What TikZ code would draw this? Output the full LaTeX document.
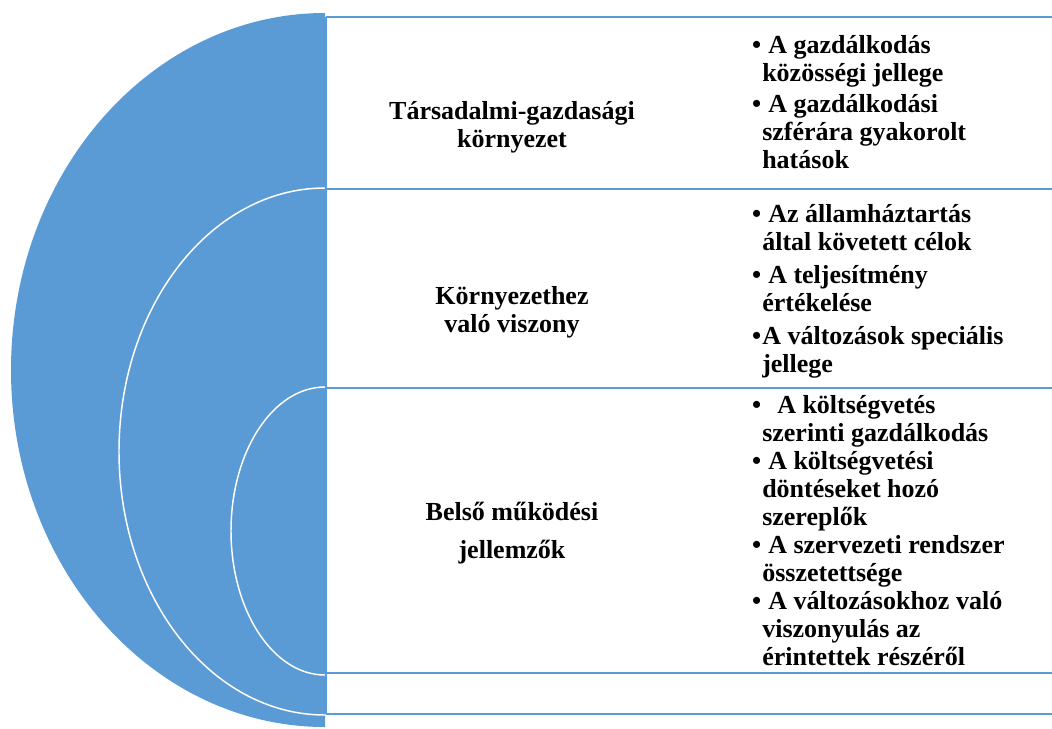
\documentclass[tikz,border=0pt]{standalone}
\usepackage{fontspec}
\setmainfont{Liberation Serif}
\usepackage{tikz}
\usepackage{xcolor}

\definecolor{officeblue}{RGB}{91,155,213}
\newcommand{\blt}[1][4.5pt]{\llap{\textbullet\hspace{0.75pt}}\hspace{#1}}

\begin{document}
\begin{tikzpicture}[x=0.75pt,y=0.75pt,yscale=-1,xscale=1,
    rowline/.style={draw=officeblue, line width=1.5pt},
    arcline/.style={draw=white, line width=1.1pt},
    lbl/.style={inner sep=0.75pt, align=center, font=\bfseries\fontsize{19.5}{21}\selectfont},
    itemtxt/.style={inner sep=0pt, align=left, font=\bfseries\fontsize{19.5}{21}\selectfont}]
    \useasboundingbox (0,0) rectangle (1052,728);

    %Shape: Half Ellipse [id:outer]
    \fill [officeblue] (325,13) arc [start angle=-90, end angle=-270, x radius=314, y radius=357] -- cycle ;
    %Shape: Arc [id:middle]
    \draw [arcline] (325,188) arc [start angle=-90, end angle=-270, x radius=206, y radius=263.5] ;
    %Shape: Arc [id:inner]
    \draw [arcline] (325,387) arc [start angle=-90, end angle=-270, x radius=94, y radius=144] ;

    %Straight Lines [id:rows]
    \draw [rowline] (326,17) -- (1052,17) ;
    \draw [rowline] (326,189) -- (1052,189) ;
    \draw [rowline] (326,388) -- (1052,388) ;
    \draw [rowline] (326,673) -- (1052,673) ;
    \draw [rowline] (326,714) -- (1052,714) ;
    \draw [draw=officeblue, line width=1pt] (326,17) -- (326,714) ;

    % Text Node (anchored at the last baseline)
    \node (tarsadalmi) [lbl, anchor=base] at (512,147) {Társadalmi-gazdasági\\környezet};
    % Text Node
    \node (kornyezet) [lbl, anchor=base] at (512,332) {Környezethez\\való viszony};
    % Text Node
    \node (belso) [lbl, anchor=base] at (512,558) {Belső működési\\[7.5pt]jellemzők};

    % Text Node
    \node (tarsadalmilist) [itemtxt, anchor=base west] at (762,168) {\blt A gazdálkodás\\közösségi jellege\\[2.25pt]\blt A gazdálkodási\\szférára gyakorolt\\hatások};
    % Text Node
    \node (kornyezetlist) [itemtxt, anchor=base west] at (762,372) {\blt Az államháztartás\\által követett célok\\[3.75pt]\blt A teljesítmény\\értékelése\\[3.75pt]\blt[0pt]A változások speciális\\jellege};
    % Text Node
    \node (belsolist) [itemtxt, anchor=base west] at (762,665) {\blt[11.25pt]A költségvetés\\szerinti gazdálkodás\\\blt A költségvetési\\döntéseket hozó\\szereplők\\\blt A szervezeti rendszer\\összetettsége\\\blt A változásokhoz való\\viszonyulás az\\érintettek részéről};

\end{tikzpicture}
\end{document}
